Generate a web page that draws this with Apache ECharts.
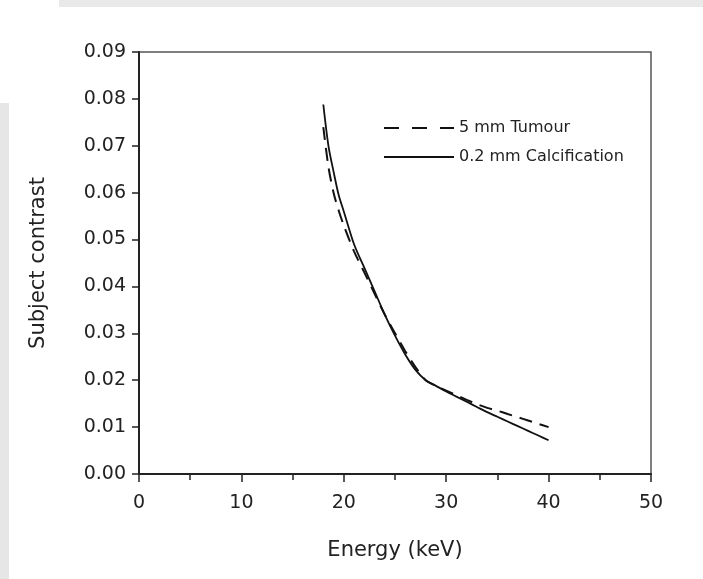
<!DOCTYPE html>
<html>
<head>
<meta charset="utf-8">
<script src="https://cdn.jsdelivr.net/npm/echarts@6/dist/echarts.min.js"></script>
<style>html,body{margin:0;padding:0;background:#fff;}#c{width:703px;height:579px;}</style>
</head>
<body>
<div id="c"></div>
<script>
const energy = [18, 18.5, 19, 19.5, 20, 21, 22, 23, 24, 25, 26, 27, 28, 29, 30, 31, 32, 33, 34, 35, 36, 37, 38, 39, 40];
const tumour = [0.0740, 0.0655, 0.0600, 0.0562, 0.0530, 0.0475, 0.0430, 0.0385, 0.0340, 0.0300, 0.0262, 0.0228, 0.0200, 0.0188, 0.0178, 0.0168, 0.0158, 0.0149, 0.0141, 0.0135, 0.0128, 0.0121, 0.0114, 0.0107, 0.0100];
const calcification = [0.0788, 0.0700, 0.0645, 0.0595, 0.0560, 0.0490, 0.0440, 0.0390, 0.0340, 0.0295, 0.0255, 0.0222, 0.0200, 0.0188, 0.0176, 0.0165, 0.0154, 0.0143, 0.0132, 0.0122, 0.0112, 0.0102, 0.0092, 0.0082, 0.0072];
const seriesNames = ['5 mm Tumour', '0.2 mm Calcification'];
const xTitle = 'Energy (keV)';
const yTitle = 'Subject contrast';

const pair = (xs, ys) => xs.map((x, i) => [x, ys[i]]);
const font = 'DejaVu Sans';
const chart = echarts.init(document.getElementById('c'));
chart.setOption({
  animation: false,
  backgroundColor: '#ffffff',
  graphic: [
    { type: 'rect', shape: { x: 59, y: 0, width: 644, height: 7 }, style: { fill: '#e9e9e9' }, silent: true },
    { type: 'rect', shape: { x: 0, y: 103, width: 9, height: 476 }, style: { fill: '#e6e6e6' }, silent: true }
  ],
  grid: { left: 139, top: 52, right: 52, bottom: 105, show: true, borderColor: '#555', borderWidth: 1.5, backgroundColor: 'transparent' },
  legend: {
    orient: 'vertical', left: 378, top: 114,
    itemWidth: 70, itemHeight: 18, itemGap: 11,
    itemStyle: { opacity: 0 },
    textStyle: { fontFamily: font, fontSize: 16, color: '#222', lineHeight: 18 },
    data: [
      { name: seriesNames[0], lineStyle: { type: [15, 13] } },
      { name: seriesNames[1] }
    ]
  },
  xAxis: {
    type: 'value', min: 0, max: 50, interval: 10,
    name: xTitle, nameLocation: 'middle', nameGap: 66,
    nameTextStyle: { fontFamily: font, fontSize: 21, color: '#222' },
    axisLine: { show: true, lineStyle: { color: '#222', width: 2 } },
    axisTick: { show: true, inside: false, length: 8, lineStyle: { color: '#222', width: 1.5 } },
    minorTick: { show: true, splitNumber: 2, length: 6, lineStyle: { color: '#222', width: 1.5 } },
    axisLabel: { fontFamily: font, fontSize: 19, color: '#222', margin: 20 },
    splitLine: { show: false }
  },
  yAxis: {
    type: 'value', min: 0, max: 0.09, interval: 0.01,
    name: yTitle, nameLocation: 'middle', nameGap: 90, nameRotate: 90,
    nameTextStyle: { fontFamily: font, fontSize: 21, color: '#222' },
    axisLine: { show: true, lineStyle: { color: '#222', width: 2 } },
    axisTick: { show: true, inside: false, length: 7, lineStyle: { color: '#222', width: 1.5 } },
    axisLabel: { fontFamily: font, fontSize: 19, color: '#222', margin: 13, formatter: v => v.toFixed(2) },
    splitLine: { show: false }
  },
  series: [
    { name: seriesNames[0], type: 'line', data: pair(energy, tumour), symbol: 'none', smooth: 0.3,
      lineStyle: { color: '#111', width: 2, type: [13, 8] }, itemStyle: { color: '#111' } },
    { name: seriesNames[1], type: 'line', data: pair(energy, calcification), symbol: 'none', smooth: 0.3,
      lineStyle: { color: '#111', width: 1.8, type: 'solid' }, itemStyle: { color: '#111' } }
  ]
});
</script>
</body>
</html>
